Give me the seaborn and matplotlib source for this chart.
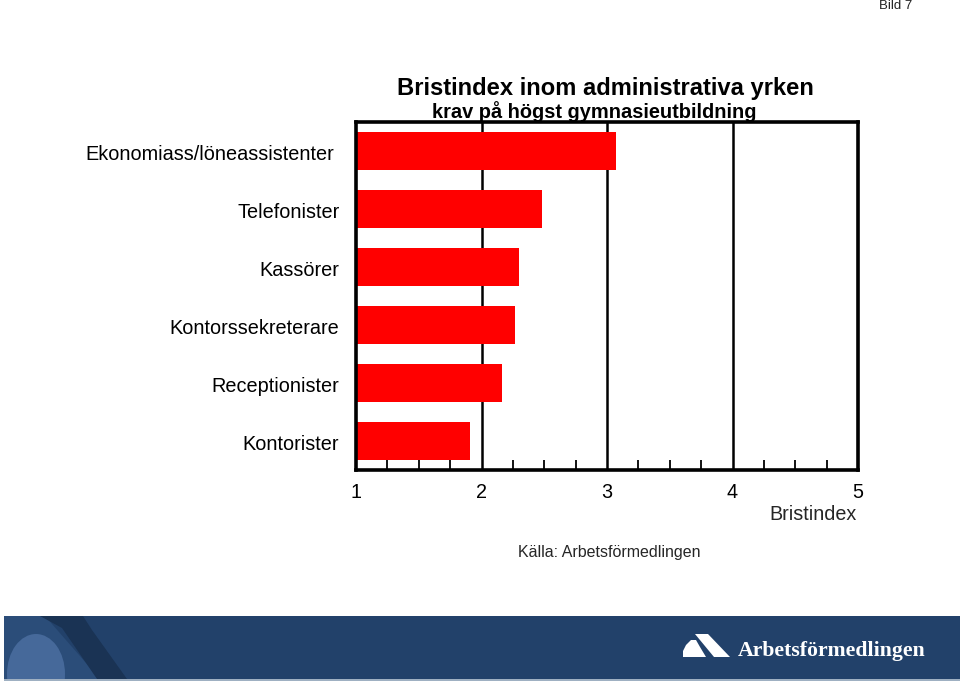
import matplotlib
matplotlib.use("Agg")
import matplotlib.pyplot as plt
import seaborn as sns
import pandas as pd
import matplotlib.transforms as mtrans
from matplotlib.patches import Rectangle, Polygon, Ellipse
from matplotlib.ticker import MultipleLocator

categories = ["Ekonomiass/löneassistenter", "Telefonister", "Kassörer",
              "Kontorssekreterare", "Receptionister", "Kontorister"]
values = [3.07, 2.48, 2.30, 2.27, 2.16, 1.91]
xticks = [1, 2, 3, 4, 5]

sns.set_style("white")
plt.rcParams["font.family"] = ["Liberation Sans", "DejaVu Sans"]

df = pd.DataFrame({"Yrke": categories, "Bristindex": values})

fig = plt.figure(figsize=(9.6, 6.81), dpi=100)
ax = fig.add_axes([356/960, 1-470/681, (858-356)/960, (470-122)/681])

sns.barplot(data=df, x="Bristindex", y="Yrke", orient="h", color="#ff0000",
            saturation=1, width=0.67, ax=ax, zorder=1)
for p in ax.patches:
    p.set_edgecolor("none")

ax.set_xlim(1, 5)
ax.set_xticks(xticks)
ax.set_xticklabels([str(t) for t in xticks])
ax.xaxis.set_minor_locator(MultipleLocator(0.25))
ax.tick_params(axis="x", which="major", length=0, labelsize=14.2, pad=9, colors="black")
ax.tick_params(axis="x", which="minor", direction="in", length=7, width=1.3, bottom=True, color="black")
ax.tick_params(axis="y", length=0, labelsize=14.3, pad=12, colors="black")
ylabs = ax.get_yticklabels()
for i, lab in enumerate(ylabs):
    lab.set_color("black")
    if i == 0:
        lab.set_transform(lab.get_transform() + mtrans.ScaledTranslation(-5/100, -2/100, fig.dpi_scale_trans))
    else:
        lab.set_transform(lab.get_transform() + mtrans.ScaledTranslation(0, -2/100, fig.dpi_scale_trans))
ax.set_xlabel("")
ax.set_ylabel("")
for x in [2, 3, 4]:
    ax.axvline(x, color="black", lw=1.8, zorder=0.5)
for s in ax.spines.values():
    s.set_visible(True)
    s.set_color("black")
    s.set_linewidth(2.6)
    s.set_zorder(5)

fig.text(605/960, 1-88/681, "Bristindex inom administrativa yrken", ha="center", va="center",
         fontsize=17.1, fontweight="bold", color="black")
fig.text(594/960, 1-112/681, "krav på högst gymnasieutbildning", ha="center", va="center",
         fontsize=14.4, fontweight="bold", color="black", zorder=0)
fig.text(857/960, 1-515/681, "Bristindex", ha="right", va="center", fontsize=14.2)
fig.text(609/960, 1-553/681, "Källa: Arbetsförmedlingen", ha="center", va="center", fontsize=11.5)
fig.text(896/960, 1-6/681, "Bild 7", ha="center", va="center", fontsize=9.5, color="#222222")

# bottom banner
bax = fig.add_axes([0, 0, 1, 1], zorder=-1)
bax.set_xlim(0, 960)
bax.set_ylim(681, 0)
bax.axis("off")
base = Rectangle((4, 616), 956, 63, facecolor="#22416a", edgecolor="none")
bax.add_patch(base)
bax.add_patch(Rectangle((4, 678.5), 956, 2.5, facecolor="#9fb0c2", edgecolor="none"))
mid = Polygon([(4, 616), (45, 616), (100, 679), (4, 679)], closed=True,
              facecolor="#2b4d79", edgecolor="none")
bax.add_patch(mid)
dark = Polygon([(40, 616), (83, 616), (92, 630), (127, 679), (97, 679), (62, 628)], closed=True,
               facecolor="#1a3354", edgecolor="none")
bax.add_patch(dark)
blob = Ellipse((36, 674), 58, 80, facecolor="#46699a", edgecolor="none")
bax.add_patch(blob)
blob.set_clip_path(base)
# logo
bax.add_patch(Polygon([(695, 634), (708, 634), (730, 657), (714, 657)], closed=True,
                      facecolor="white", edgecolor="none"))
bax.add_patch(Polygon([(683, 657), (683, 651), (686, 645), (691, 640), (696, 640), (700, 647), (706, 657)],
                      closed=True, facecolor="white", edgecolor="none"))
bax.text(738, 651, "Arbetsförmedlingen", ha="left", va="center", fontsize=15.7,
         fontweight="bold", color="white", family=["Liberation Serif", "DejaVu Serif"])

fig.savefig("out.png", dpi=100)
